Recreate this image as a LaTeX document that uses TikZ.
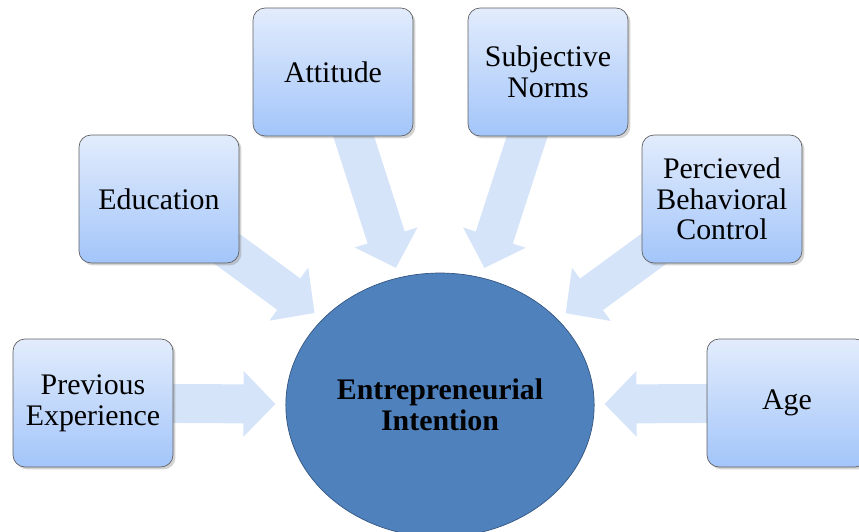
\documentclass[tikz,border=0pt]{standalone}
\usepackage{fontspec}
\setmainfont{Liberation Serif}
\usetikzlibrary{arrows.meta,positioning,shadows,backgrounds,shapes.geometric}

\definecolor{boxtop}{RGB}{226,236,252}
\definecolor{boxbottom}{RGB}{163,197,250}
\definecolor{boxline}{RGB}{95,95,95}
\definecolor{eifill}{RGB}{79,129,189}
\definecolor{eiline}{RGB}{52,86,128}
\definecolor{flowfill}{RGB}{214,228,249}

\tikzset{
  factor/.style = {draw=boxline, rectangle, rounded corners=0.24cm,
    minimum width=3.2cm, minimum height=2.56cm,
    top color=boxtop, bottom color=boxbottom, align=center,
    font=\fontsize{17}{17.5}\selectfont,
    drop shadow={shadow xshift=0.05cm, shadow yshift=-0.05cm, opacity=0.35}},
  intention/.style = {draw=eiline, ellipse, fill=eifill,
    minimum width=6.08cm, minimum height=5.28cm, align=center,
    font=\fontsize{17}{17.5}\selectfont\bfseries},
  flow/.style = {draw=flowfill, line width=0.78cm,
    -{Triangle[width=1.28cm,length=0.64cm]}, shorten >=0.2cm}
}

\begin{document}
\begin{tikzpicture}[x=0.02cm, y=-0.02cm]

      \useasboundingbox (0,0) rectangle (859,531);

      \node[intention] (ei) at (440,405) {Entrepreneurial\\Intention};

      \node[factor] (prev) at (93,403)  {Previous\\Experience};
      \node[factor] (edu)  at (159,199) {Education};
      \node[factor] (att)  at (333,72)  {Attitude};
      \node[factor] (sn)   at (548,72)  {Subjective\\Norms};
      \node[factor] (pbc)  at (722,199) {Percieved\\Behavioral\\Control};
      \node[factor] (age)  at (787,403) {Age};

      \begin{scope}[on background layer]
        \draw[flow] (prev.center) -- (ei);
        \draw[flow] (edu.center)  -- (ei);
        \draw[flow] (att.center)  -- (ei);
        \draw[flow] (sn.center)   -- (ei);
        \draw[flow] (pbc.center)  -- (ei);
        \draw[flow] (age.center)  -- (ei);
      \end{scope}

\end{tikzpicture}
\end{document}
